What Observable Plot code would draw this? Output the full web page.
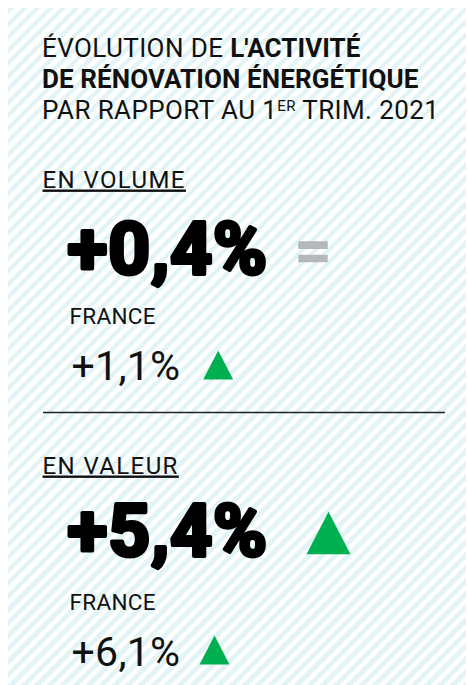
<!DOCTYPE html>
<html>
<head>
<meta charset="utf-8">
<script src="https://cdn.jsdelivr.net/npm/d3@7"></script>
<script src="https://cdn.jsdelivr.net/npm/@observablehq/plot@0.6"></script>
<style>
  html, body { margin: 0; padding: 0; background: #fff; }
  #wrap { position: relative; width: 468px; height: 685px; overflow: hidden; font-family: Roboto, "Noto Sans", sans-serif; color: #111; }
  #panel { position: absolute; left: 8px; top: 8px; right: 2px; bottom: 0;
    background: repeating-linear-gradient(135deg, #e2f4f5 0 4.6px, #ffffff 4.6px 9.2px); }
  #title { position: absolute; left: 42px; top: 32.6px; font-size: 26px; line-height: 31px; white-space: nowrap; letter-spacing: 0.4px; }
  #title b { font-weight: 700; letter-spacing: 0.1px; }
  #title .sup { font-size: 15px; position: relative; top: -8px; }
  #chart { position: absolute; left: 0; top: 0; }
  #chart svg { background: transparent; }
</style>
</head>
<body>
<div id="wrap">
  <div id="panel"></div>
  <div id="chart"></div>
  <div id="title"></div>
</div>
<script>
// ---- data ----
const titleLine1 = ["ÉVOLUTION DE ", "L'ACTIVITÉ"];
const titleLine2 = ["DE RÉNOVATION ÉNERGÉTIQUE"];
const titleLine3 = ["PAR RAPPORT AU 1", "ER", " TRIM. 2021"];
const sections = ["EN VOLUME", "EN VALEUR"];
const localValues = [0.4, 5.4];
const localTrends = ["stable", "hausse"];
const franceLabel = "FRANCE";
const franceValues = [1.1, 6.1];
const franceTrends = ["hausse", "hausse"];

// ---- title (HTML) ----
const t = document.getElementById("title");
t.innerHTML =
  `${titleLine1[0]}<b>${titleLine1[1]}</b><br>` +
  `<b>${titleLine2[0]}</b><br>` +
  `${titleLine3[0]}<span class="sup">${titleLine3[1]}</span>${titleLine3[2]}`;

// ---- formatting ----
const fr = d3.formatLocale({decimal: ",", thousands: " ", grouping: [3], currency: ["", " €"]});
const f1 = fr.format("+.1f");
const pct = v => f1(v) + "%";

const rows = sections.map((s, i) => ({
  section: s, i,
  local: pct(localValues[i]), localTrend: localTrends[i],
  france: pct(franceValues[i]), franceTrend: franceTrends[i]
}));

// ---- layout ----
const L = {
  headX: 42, headY: [187, 473],
  bigX: 67, bigY: [273, 555.5],
  frX: 69, frY: [323, 609],
  smX: 71, smY: [379, 665],
  bigSymX: [312.5, 328], bigSymY: [251.3, 532.5], bigSymR: [14.75, 22],
  smSymX: [217.7, 214], smSymY: [364.5, 649.5], smSymR: 15,
  sepY: 412, sepX1: 43, sepX2: 445
};

const triangleUp = {
  draw(ctx, size) {
    const r = Math.sqrt(size / Math.PI);
    const h = r * 1.94;
    ctx.moveTo(0, -h / 2);
    ctx.lineTo(r, h / 2);
    ctx.lineTo(-r, h / 2);
    ctx.closePath();
  }
};
const equalSign = {
  draw(ctx, size) {
    const r = Math.sqrt(size / Math.PI);
    const bh = r * 0.515, gap = r * 0.39;
    ctx.rect(-r, -gap / 2 - bh, 2 * r, bh);
    ctx.rect(-r, gap / 2, 2 * r, bh);
  }
};
const symFor = tr => tr === "hausse" ? triangleUp : equalSign;
const colFor = tr => tr === "hausse" ? "#00b050" : "#b4b7bc";

const font = "Roboto, 'Noto Sans', sans-serif";

const plot = Plot.plot({
  width: 468, height: 685,
  margin: 0,
  style: {background: "transparent", color: "#111", fontFamily: font},
  x: {type: "identity", axis: null},
  y: {type: "identity", axis: null},
  r: {type: "identity"},
  marks: [
    Plot.text(rows, {
      x: () => L.headX, y: d => L.headY[d.i], text: "section",
      textAnchor: "start", lineAnchor: "bottom", fontSize: 24, fill: "#111"
    }),
    Plot.text(rows, {
      x: () => L.bigX, y: d => L.bigY[d.i], text: "local",
      textAnchor: "start", lineAnchor: "bottom", fontSize: 73, fontWeight: 700,
      fill: "#000", stroke: "#000", strokeWidth: 4, strokeLinejoin: "round"
    }),
    Plot.dot(rows, {
      x: d => L.bigSymX[d.i], y: d => L.bigSymY[d.i], r: d => L.bigSymR[d.i],
      symbol: d => symFor(d.localTrend), fill: d => colFor(d.localTrend), stroke: null
    }),
    Plot.text(rows, {
      x: () => L.frX, y: d => L.frY[d.i], text: () => franceLabel,
      textAnchor: "start", lineAnchor: "bottom", fontSize: 22.5, fill: "#111"
    }),
    Plot.text(rows, {
      x: () => L.smX, y: d => L.smY[d.i], text: "france",
      textAnchor: "start", lineAnchor: "bottom", fontSize: 41, fill: "#111"
    }),
    Plot.dot(rows, {
      x: d => L.smSymX[d.i], y: d => L.smSymY[d.i], r: L.smSymR,
      symbol: d => symFor(d.franceTrend), fill: d => colFor(d.franceTrend), stroke: null
    }),
    Plot.ruleY([L.sepY], {x1: L.sepX1, x2: L.sepX2, stroke: "#222", strokeWidth: 1.3})
  ]
});
document.getElementById("chart").appendChild(plot);
const bigTexts = rows.map(d => d.local);
plot.querySelectorAll("text").forEach(n => {
  const txt = n.textContent;
  if (sections.includes(txt)) { n.setAttribute("text-decoration", "underline"); n.style.letterSpacing = "1.4px"; }
  else if (txt === franceLabel) n.style.letterSpacing = "0.3px";
  else if (bigTexts.includes(txt)) n.style.letterSpacing = "1px";
  else n.style.letterSpacing = "0.3px";
});
</script>
</body>
</html>
